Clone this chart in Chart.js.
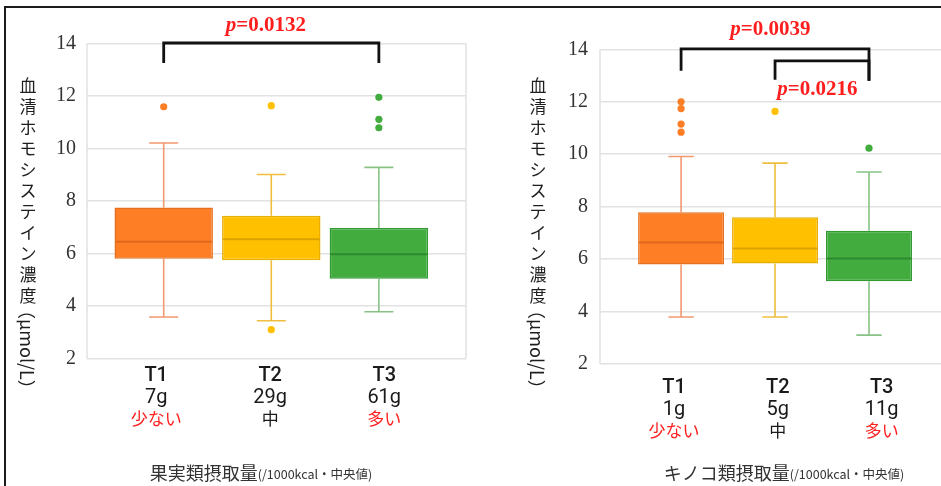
<!DOCTYPE html>
<html>
<head>
<meta charset="utf-8">
<script src="https://cdn.jsdelivr.net/npm/chart.js@4/dist/chart.umd.min.js"></script>
<style>
  html, body { margin: 0; padding: 0; background: #fff; width: 941px; height: 486px; overflow: hidden; }
  #frame { position: absolute; left: 4px; top: 6px; width: 1000px; height: 600px;
           border-left: 2px solid #1c1c1c; border-top: 2px solid #1c1c1c; }
  .panel { position: absolute; top: 0; height: 486px; }
</style>
</head>
<body>
<div id="frame"></div>
<div class="panel" style="left:0;width:470px"><canvas id="fruit" width="470" height="486"></canvas></div>
<div class="panel" style="left:470px;width:490px"><canvas id="mushroom" width="490" height="486"></canvas></div>
<script>
// Tertile groups and their labels
const groups = ['T1', 'T2', 'T3'];
const levelLabels = ['少ない', '中', '多い'];
const fruitIntake = ['7g', '29g', '61g'];
const mushroomIntake = ['1g', '5g', '11g'];

// Serum homocysteine (µmol/L) by fruit intake tertile
const fruitLow = [3.58, 3.44, 3.78];
const fruitQ1 = [5.80, 5.74, 5.04];
const fruitMedian = [6.45, 6.54, 5.97];
const fruitQ3 = [7.75, 7.44, 6.97];
const fruitHigh = [10.21, 9.01, 9.28];
const fruitOutliers = [[11.59], [11.63, 3.10], [11.95, 11.11, 10.79]];

// Serum homocysteine (µmol/L) by mushroom intake tertile
const mushroomLow = [3.79, 3.79, 3.10];
const mushroomQ1 = [5.79, 5.83, 5.16];
const mushroomMedian = [6.63, 6.40, 6.02];
const mushroomQ3 = [7.79, 7.60, 7.08];
const mushroomHigh = [9.91, 9.66, 9.32];
const mushroomOutliers = [[12.0, 11.74, 11.15, 10.84], [11.63], [10.23]];

// Significance tests between tertiles
const fruitPValues = ['0.0132'];
const mushroomPValues = ['0.0039', '0.0216'];

const yTitleChars = '血清ホモシステイン濃度';
const yTitleUnit = '（μmol/L）';

const fills = ['#FD7E25', '#FFC000', '#42AC3E'];
const edges = ['#E6701D', '#E8AE00', '#309A30'];
const medianColors = ['#E0681A', '#DDA200', '#2E8A2E'];
const whiskerColors = ['#F2996F', '#F0BE3E', '#88C385'];
const CJK = '"Noto Sans CJK JP", "Noto Sans", sans-serif';

function drawPText(ctx, value, cx, cy) {
  const f1 = 'italic bold 21px "Liberation Serif", serif';
  const f2 = 'bold 21px "Liberation Serif", serif';
  const rest = '=' + value;
  ctx.font = f1; const w1 = ctx.measureText('p').width;
  ctx.font = f2; const w2 = ctx.measureText(rest).width;
  const x0 = cx - (w1 + w2) / 2;
  ctx.fillStyle = '#FF1E1E';
  ctx.textAlign = 'left';
  ctx.textBaseline = 'middle';
  ctx.font = f1; ctx.fillText('p', x0, cy);
  ctx.font = f2; ctx.fillText(rest, x0 + w1, cy);
}

function makePanel(id, c) {
  const s = c.stats;
  const boxData = groups.map((g, i) => ({ x: i + 1, y: [s.q1[i], s.q3[i]] }));
  const outlierSets = groups.map((g, i) => ({
    type: 'scatter',
    data: s.outliers[i].map(v => ({ x: i + 1, y: v })),
    pointRadius: 3.6,
    pointBackgroundColor: fills[i],
    pointBorderWidth: 0,
    order: 1
  }));

  const panelPlugin = {
    id: 'boxPanel',
    beforeDatasetsDraw(chart) {
      const { ctx, chartArea: a, scales: { x, y } } = chart;
      ctx.save();
      // plot frame sides
      ctx.strokeStyle = '#E2E2E2';
      ctx.lineWidth = 1.5;
      ctx.beginPath();
      ctx.moveTo(a.left, a.top); ctx.lineTo(a.left, a.bottom);
      ctx.moveTo(a.right, a.top); ctx.lineTo(a.right, a.bottom);
      ctx.stroke();
      // whiskers with caps
      groups.forEach((g, i) => {
        const xc = x.getPixelForValue(i + 1);
        const half = x.getPixelForValue(i + 1 + c.capHalf) - xc;
        ctx.strokeStyle = whiskerColors[i];
        ctx.lineWidth = 1.6;
        ctx.beginPath();
        ctx.moveTo(xc, y.getPixelForValue(s.q3[i]));
        ctx.lineTo(xc, y.getPixelForValue(s.high[i]));
        ctx.moveTo(xc - half, y.getPixelForValue(s.high[i]));
        ctx.lineTo(xc + half, y.getPixelForValue(s.high[i]));
        ctx.moveTo(xc, y.getPixelForValue(s.q1[i]));
        ctx.lineTo(xc, y.getPixelForValue(s.low[i]));
        ctx.moveTo(xc - half, y.getPixelForValue(s.low[i]));
        ctx.lineTo(xc + half, y.getPixelForValue(s.low[i]));
        ctx.stroke();
      });
      ctx.restore();
    },
    afterDatasetsDraw(chart) {
      const { ctx, chartArea: a, scales: { x, y } } = chart;
      ctx.save();
      // medians across each box
      const bars = chart.getDatasetMeta(0).data;
      bars.forEach((bar, i) => {
        const ym = y.getPixelForValue(s.median[i]);
        ctx.strokeStyle = medianColors[i];
        ctx.lineWidth = 2;
        ctx.beginPath();
        ctx.moveTo(bar.x - bar.width / 2 + 1, ym);
        ctx.lineTo(bar.x + bar.width / 2 - 1, ym);
        ctx.stroke();
      });
      // comparison brackets
      ctx.strokeStyle = '#111';
      ctx.lineWidth = 2.8;
      ctx.lineJoin = 'miter';
      c.brackets.forEach(b => {
        ctx.beginPath();
        ctx.moveTo(x.getPixelForValue(b.from), y.getPixelForValue(b.fromEnd));
        ctx.lineTo(x.getPixelForValue(b.from), y.getPixelForValue(b.top));
        ctx.lineTo(x.getPixelForValue(b.to), y.getPixelForValue(b.top));
        ctx.lineTo(x.getPixelForValue(b.to), y.getPixelForValue(b.toEnd));
        ctx.stroke();
      });
      c.pLabels.forEach(p => drawPText(ctx, p.text, x.getPixelForValue(p.x), y.getPixelForValue(p.y)));

      // category labels under the plot
      groups.forEach((g, i) => {
        const lx = x.getPixelForValue(c.labelCenter + (i - 1) * c.labelSpread);
        ctx.textAlign = 'center';
        ctx.textBaseline = 'middle';
        ctx.fillStyle = '#1a1a1a';
        ctx.font = '500 20px Roboto, sans-serif';
        ctx.fillText(g, lx, a.bottom + c.rows[0]);
        ctx.font = '20px Roboto, sans-serif';
        ctx.fillText(c.intake[i], lx, a.bottom + c.rows[1]);
        ctx.font = '17px ' + CJK;
        ctx.fillStyle = i === 1 ? '#1a1a1a' : '#FF2020';
        ctx.fillText(levelLabels[i], lx, a.bottom + c.rows[2]);
      });

      // vertical axis title: stacked characters, then the unit turned sideways
      ctx.fillStyle = '#1e1e1e';
      ctx.font = '17px ' + CJK;
      ctx.textAlign = 'center';
      ctx.textBaseline = 'middle';
      [...yTitleChars].forEach((ch, k) => ctx.fillText(ch, c.yTitleX, c.yTitleTop + k * 21));
      ctx.save();
      ctx.translate(c.yTitleX, c.yTitleTop + yTitleChars.length * 21 - 16);
      ctx.rotate(Math.PI / 2);
      ctx.textAlign = 'left';
      ctx.font = '18px ' + CJK;
      ctx.fillText(yTitleUnit, 0, 1);
      ctx.restore();

      // horizontal axis title
      ctx.textBaseline = 'middle';
      ctx.textAlign = 'left';
      ctx.font = '18px ' + CJK;
      const w1 = ctx.measureText(c.xTitle).width;
      ctx.font = '12.5px ' + CJK;
      const w2 = ctx.measureText(c.xTitleSmall).width;
      const x0 = c.xTitleCenter - (w1 + w2) / 2;
      ctx.fillStyle = '#333';
      ctx.font = '18px ' + CJK;
      ctx.fillText(c.xTitle, x0, c.xTitleY);
      ctx.font = '12.5px ' + CJK;
      ctx.fillText(c.xTitleSmall, x0 + w1, c.xTitleY + 1);
      ctx.restore();
    }
  };

  return new Chart(document.getElementById(id), {
    type: 'bar',
    data: {
      datasets: [{
        type: 'bar',
        data: boxData,
        backgroundColor: fills,
        borderColor: edges,
        borderWidth: 1.5,
        borderSkipped: false,
        barPercentage: c.boxFrac,
        categoryPercentage: 1,
        order: 2
      }, ...outlierSets]
    },
    options: {
      responsive: false,
      animation: false,
      events: [],
      layout: { padding: { top: c.padTop, bottom: c.padBottom, left: 0, right: c.padRight } },
      plugins: { legend: { display: false }, tooltip: { enabled: false } },
      scales: {
        x: {
          type: 'linear', min: c.xMin, max: c.xMax, display: false, offset: false,
          // one tick per tertile so each box spans its own slot
          afterBuildTicks: scale => { scale.ticks = groups.map((g, i) => ({ value: i + 1 })); }
        },
        y: {
          min: 2, max: 14,
          ticks: { stepSize: 2, color: '#333', padding: c.tickPad,
                   font: { family: '"Liberation Serif", serif', size: 20 } },
          grid: { color: '#E2E2E2', lineWidth: 1.5, drawTicks: false },
          border: { display: false },
          afterFit: scale => { scale.width = c.axisWidth; }
        }
      }
    },
    plugins: [panelPlugin]
  });
}

makePanel('fruit', {
  stats: { low: fruitLow, q1: fruitQ1, median: fruitMedian, q3: fruitQ3, high: fruitHigh, outliers: fruitOutliers },
  intake: fruitIntake,
  xMin: 0.287, xMax: 3.81, axisWidth: 87, tickPad: 11,
  padTop: 43.5, padBottom: 127.5, padRight: 2,
  boxFrac: 0.915, capHalf: 0.135,
  brackets: [{ from: 1, to: 3, top: 14.02, fromEnd: 13.26, toEnd: 13.26 }],
  pLabels: [{ text: fruitPValues[0], x: 1.95, y: 14.7 }],
  labelCenter: 1.99, labelSpread: 1.06, rows: [17.5, 39, 60],
  yTitleX: 28, yTitleTop: 86,
  xTitle: '果実類摂取量', xTitleSmall: '(/1000kcal・中央値)', xTitleCenter: 261, xTitleY: 473
});

makePanel('mushroom', {
  stats: { low: mushroomLow, q1: mushroomQ1, median: mushroomMedian, q3: mushroomQ3, high: mushroomHigh, outliers: mushroomOutliers },
  intake: mushroomIntake,
  xMin: 0.137, xMax: 3.926, axisWidth: 130, tickPad: 12,
  padTop: 49.3, padBottom: 122, padRight: 0,
  boxFrac: 0.915, capHalf: 0.135,
  brackets: [
    { from: 1, to: 3, top: 14.02, fromEnd: 13.18, toEnd: 12.8 },
    { from: 2, to: 3, top: 13.56, fromEnd: 12.84, toEnd: 12.8 }
  ],
  pLabels: [
    { text: mushroomPValues[0], x: 1.95, y: 14.74 },
    { text: mushroomPValues[1], x: 2.45, y: 12.45 }
  ],
  labelCenter: 2.03, labelSpread: 1.105, rows: [24, 45.7, 67],
  yTitleX: 68, yTitleTop: 86,
  xTitle: 'キノコ類摂取量', xTitleSmall: '(/1000kcal・中央値)', xTitleCenter: 314, xTitleY: 473
});
</script>
</body>
</html>
